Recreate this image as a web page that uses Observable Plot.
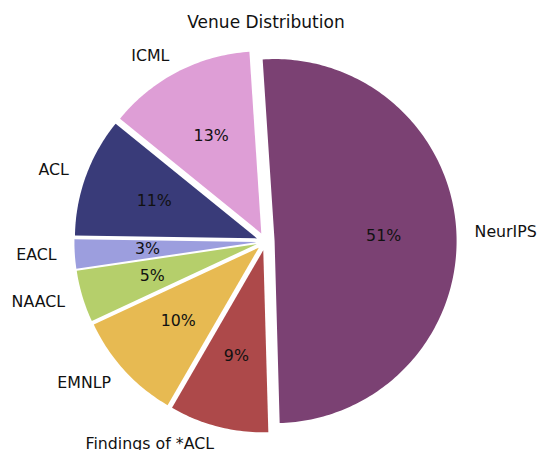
<!DOCTYPE html>
<html>
<head>
<meta charset="utf-8">
<script src="https://cdn.jsdelivr.net/npm/d3@7"></script>
<script src="https://cdn.jsdelivr.net/npm/@observablehq/plot@0.6"></script>
<style>
  html, body { margin: 0; padding: 0; background: #fff; }
  #title { width: 539px; height: 40px; box-sizing: border-box; padding-top: 14px; padding-right: 7px;
           text-align: center; font: 17px/1 "DejaVu Sans", sans-serif; color: #111; }
  #chart svg { display: block; }
</style>
</head>
<body>
<div id="title">Venue Distribution</div>
<div id="chart"></div>
<script>
const venues = ["NeurIPS", "ICML", "ACL", "EACL", "NAACL", "EMNLP", "Findings of *ACL"];
const shares = [50.6, 13.1, 10.6, 2.6, 4.6, 9.7, 8.8];
const colors = ["#7b4173", "#de9ed6", "#393b79", "#9c9ede", "#b5cf6b", "#e7ba52", "#ad494a"];
const startAngle = -88.4;   // degrees, counterclockwise
const explode = 0.05;

const W = 539, H = 410, cx = 265, cy = 201, R = 182;
const total = d3.sum(shares);
const rad = Math.PI / 180;

const wedgeMarks = [];
const labels = [];
const pcts = [];
let a = startAngle;
shares.forEach((v, i) => {
  const span = v / total * 360;
  const a0 = a, a1 = a + span, m = (a0 + a1) / 2;
  a = a1;
  const ox = explode * Math.cos(m * rad), oy = explode * Math.sin(m * rad);
  const pts = [{x: ox, y: oy}];
  const n = Math.max(2, Math.ceil(span));
  for (let k = 0; k <= n; k++) {
    const t = (a0 + span * k / n) * rad;
    pts.push({x: ox + Math.cos(t), y: oy + Math.sin(t)});
  }
  wedgeMarks.push(Plot.line(pts, {x: "x", y: "y", fill: colors[i], stroke: "none", curve: "linear-closed"}));
  const c = Math.cos(m * rad), s = Math.sin(m * rad);
  labels.push({x: ox + 1.1 * c, y: oy + 1.1 * s, text: venues[i], anchor: c > 0 ? "start" : "end"});
  pcts.push({x: ox + 0.6 * c, y: oy + 0.6 * s, text: Math.round(v / total * 100) + "%"});
});

const chart = Plot.plot({
  width: W, height: H,
  margin: 0,
  x: {domain: [-cx / R, (W - cx) / R], axis: null},
  y: {domain: [-(H - cy) / R, cy / R], axis: null},
  style: {fontFamily: "DejaVu Sans, sans-serif"},
  marks: [
    ...wedgeMarks,
    Plot.text(labels.filter(d => d.anchor === "start"), {x: "x", y: "y", text: "text", textAnchor: "start", fontSize: 15.8, fill: "#111"}),
    Plot.text(labels.filter(d => d.anchor === "end"), {x: "x", y: "y", text: "text", textAnchor: "end", fontSize: 15.8, fill: "#111"}),
    Plot.text(pcts, {x: "x", y: "y", text: "text", fontSize: 15.8, fill: "#111"})
  ]
});
document.getElementById("chart").appendChild(chart);
</script>
</body>
</html>
